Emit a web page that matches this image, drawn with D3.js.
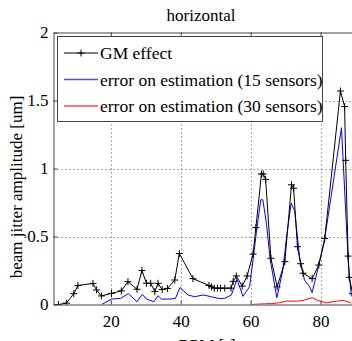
<!DOCTYPE html>
<html>
<head>
<meta charset="utf-8">
<script src="https://cdn.jsdelivr.net/npm/d3@7"></script>
<style>
  body { margin: 0; background: #fff; }
  svg { display: block; font-family: "Liberation Serif", "Times New Roman", serif; }
</style>
</head>
<body>
<svg width="352" height="341"></svg>
<script>
const width = 352, height = 341;
const svg = d3.select("svg");

// GM effect (black, + markers)
const gmX = [5, 7.3, 9.4, 10.6, 14.9, 15.9, 17.3, 20.2, 23.0, 24.9, 27.5, 28.9, 30.2, 31.4, 32.6, 33.5, 34.7, 36.2, 38.3, 39.6,
  43.5, 48.1, 48.8, 49.6, 50.5, 51.4, 52.6, 54.4, 55.0, 55.9, 57.6, 59.0, 60.7, 61.5, 63.1, 63.6, 64.3, 65.8, 67.6, 69.8,
  71.7, 72.3, 73.4, 74.3, 75.0, 77.6, 79.5, 81.2, 85.7, 86.9, 87.2, 87.9, 88.2, 89.2];
const gmY = [0, 0.01, 0.08, 0.14, 0.155, 0.107, 0.063, 0.082, 0.10, 0.168, 0.112, 0.25, 0.156, 0.156, 0.095, 0.156, 0.11, 0.118, 0.18, 0.375,
  0.19, 0.14, 0.13, 0.12, 0.12, 0.12, 0.12, 0.12, 0.17, 0.21, 0.135, 0.21, 0.37, 0.565, 0.96, 0.96, 0.92, 0.34, 0.13, 0.315,
  0.88, 0.855, 0.425, 0.30, 0.23, 0.19, 0.29, 0.485, 1.57, 1.455, 1.06, 0.356, 0.2, 0.08];

// error on estimation, 15 sensors (blue)
const err15X = [17.4, 20.2, 22.8, 25.0, 27.5, 29.0, 30.2, 32.3, 33.5, 34.5, 36.9, 38.5, 39.8, 42.1, 44.0, 46.4, 48.8, 50.7, 52.6, 54.5,
  56.1, 57.8, 59.7, 60.7, 61.6, 62.9, 63.5, 64.5, 65.6, 67.5, 69.2, 70.4, 71.6, 72.6, 74.0, 75.4, 76.9, 77.6, 81.0, 86.0, 87.9, 88.8];
const err15Y = [0, 0.04, 0.045, 0.08, 0.02, 0.075, 0.04, 0.02, 0.065, 0.04, 0.04, 0.045, 0.125, 0.07, 0.057, 0.07, 0.057, 0.045, 0.045, 0.07,
  0.185, 0.06, 0.13, 0.33, 0.52, 0.77, 0.77, 0.6, 0.33, 0.05, 0.25, 0.52, 0.745, 0.69, 0.35, 0.18, 0.13, 0.087, 0.45, 1.30, 0.33, 0.06];

// error on estimation, 30 sensors (red)
const err30X = [60, 64, 66, 68, 70.3, 73.5, 75, 77.6, 79.2, 81.6, 84.5, 86.4, 88.8];
const err30Y = [0, 0.005, 0.007, 0.012, 0.025, 0.025, 0.03, 0.05, 0.03, 0.012, 0.025, 0.03, 0.012];

const xTicks = [20, 40, 60, 80];
const yTicks = [0, 0.5, 1, 1.5, 2];
const legendLabels = ["GM effect", "error on estimation (15 sensors)", "error on estimation (30 sensors)"];
const colors = ["#000000", "#0000ff", "#ff0000"];

const padL = 53.5, padT = 32.5, padB = 304.5;
const x = d3.scaleLinear().domain([3.6, 100]).range([padL, padL + 96.4 * 3.495]);
const y = d3.scaleLinear().domain([0, 2]).range([padB, padT]);
const padR = x(100);

const zip = (xs, ys) => xs.map((v, i) => [v, ys[i]]);
const gm = zip(gmX, gmY), e15 = zip(err15X, err15Y), e30 = zip(err30X, err30Y);

svg.append("defs").append("clipPath").attr("id", "plot")
  .append("rect").attr("x", padL).attr("y", padT).attr("width", padR - padL).attr("height", padB - padT);

// grid
const grid = svg.append("g").attr("stroke", "#555").attr("stroke-width", 1).attr("stroke-dasharray", "1,3");
grid.selectAll(".gx").data(xTicks).enter().append("line")
  .attr("x1", d => Math.round(x(d)) + 0.5).attr("x2", d => Math.round(x(d)) + 0.5)
  .attr("y1", padT).attr("y2", padB);
grid.selectAll(".gy").data([0.5, 1, 1.5]).enter().append("line")
  .attr("x1", padL).attr("x2", padR)
  .attr("y1", d => Math.round(y(d)) + 0.5).attr("y2", d => Math.round(y(d)) + 0.5);

// axes
const axisStyle = g => {
  g.selectAll("path, line").attr("stroke", "#444");
  g.selectAll("text").attr("fill", "#000").style("font-size", "17px").style("font-family", "Liberation Serif, serif");
};
svg.append("g").attr("transform", `translate(0,${padB})`)
  .call(d3.axisBottom(x).tickValues(xTicks).tickSizeInner(-4).tickSizeOuter(0).tickPadding(10))
  .call(axisStyle);
svg.append("g").attr("transform", `translate(0,${padT})`)
  .call(d3.axisTop(x).tickValues(xTicks).tickSizeInner(-4).tickSizeOuter(0).tickFormat(""))
  .call(axisStyle);
svg.append("g").attr("transform", `translate(${padL},0)`)
  .call(d3.axisLeft(y).tickValues(yTicks).tickSizeInner(-4).tickSizeOuter(0).tickPadding(5).tickFormat(d => String(d)))
  .call(axisStyle);

// series
const line = d3.line().x(d => x(d[0])).y(d => y(d[1]));
const plot = svg.append("g").attr("clip-path", "url(#plot)");
plot.append("path").datum(e30).attr("fill", "none").attr("stroke", colors[2]).attr("stroke-width", 1).attr("d", line);
plot.append("path").datum(e15).attr("fill", "none").attr("stroke", colors[1]).attr("stroke-width", 1).attr("d", line);
plot.append("path").datum(gm).attr("fill", "none").attr("stroke", colors[0]).attr("stroke-width", 1).attr("d", line);

const plus = (cx, cy, r) => `M${cx - r},${cy}H${cx + r}M${cx},${cy - r}V${cy + r}`;
plot.selectAll(".mk").data(gm).enter().append("path")
  .attr("d", d => plus(x(d[0]), y(d[1]), 3.5))
  .attr("stroke", "#000").attr("stroke-width", 1).attr("fill", "none");

// legend
const lg = svg.append("g");
lg.append("rect").attr("x", 57.5).attr("y", 36.5).attr("width", 265).attr("height", 85)
  .attr("fill", "#fff").attr("stroke", "#444");
legendLabels.forEach((lab, i) => {
  const ly = 53 + i * 26.5;
  lg.append("line").attr("x1", 64).attr("x2", 98).attr("y1", ly).attr("y2", ly)
    .attr("stroke", colors[i]).attr("stroke-width", i === 0 ? 1 : 1.5).attr("opacity", i === 0 ? 1 : 0.7);
  if (i === 0) lg.append("path").attr("d", plus(81, ly, 3.5)).attr("stroke", "#000");
  lg.append("text").attr("x", 100).attr("y", ly + 6).style("font-size", "17.5px").text(lab);
});

// titles
svg.append("text").attr("x", 201).attr("y", 21).attr("text-anchor", "middle").style("font-size", "17px").text("horizontal");
svg.append("text").attr("transform", "rotate(-90)").attr("x", -187).attr("y", 22)
  .attr("text-anchor", "middle").style("font-size", "17px").text("beam jitter amplitude [um]");
svg.append("text").attr("x", 207).attr("y", 351).attr("text-anchor", "middle").style("font-size", "17px").text("BPM [-]");
</script>
</body>
</html>
